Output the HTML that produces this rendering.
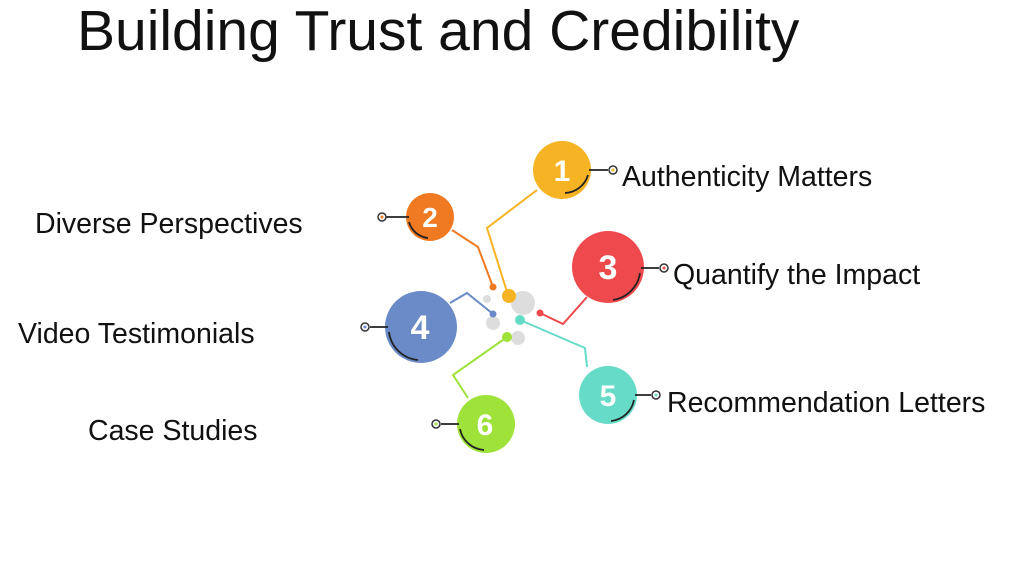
<!DOCTYPE html>
<html><head><meta charset="utf-8"><style>
body{margin:0;width:1024px;height:576px;background:#fff;overflow:hidden;position:relative;font-family:"Liberation Sans",sans-serif}
.t{position:absolute;white-space:nowrap;color:#111;font-size:28.5px;line-height:1}
</style></head><body>
<div class="t" style="left:77px;top:3px;font-size:57px;">Building Trust and Credibility</div>
<div class="t" style="left:622px;top:163px;">Authenticity Matters</div>
<div class="t" style="left:35px;top:210px;">Diverse Perspectives</div>
<div class="t" style="left:673px;top:261px;">Quantify the Impact</div>
<div class="t" style="left:18px;top:320px;">Video Testimonials</div>
<div class="t" style="left:667px;top:389px;">Recommendation Letters</div>
<div class="t" style="left:88px;top:417px;">Case Studies</div>
<svg width="1024" height="576" style="position:absolute;left:0;top:0" font-family="Liberation Sans, sans-serif" font-weight="bold">
<g fill="#ddd"><circle cx="523" cy="303" r="12"/><circle cx="493" cy="323" r="7"/><circle cx="518" cy="338" r="7"/><circle cx="487" cy="299" r="4"/></g>
<g fill="none" stroke-width="2">
<polyline points="452,230 478,247 493,287" stroke="#f07a22"/>
<polyline points="537,190 487,228 508,295" stroke="#f6b323"/>
<polyline points="450,303 467,293 493,314" stroke="#6a8bc8"/>
<polyline points="587,297 563,324 540,313" stroke="#ee4a4e"/>
<polyline points="587,367 585,348 520,320" stroke="#66dcc8"/>
<polyline points="468,398 453,375 507,337" stroke="#9fe23a"/>
</g>
<circle cx="493" cy="287" r="3.5" fill="#f07a22"/>
<circle cx="509" cy="296" r="7" fill="#f6b323"/>
<circle cx="493" cy="314" r="3.5" fill="#6a8bc8"/>
<circle cx="540" cy="313" r="3.5" fill="#ee4a4e"/>
<circle cx="520" cy="320" r="5" fill="#66dcc8"/>
<circle cx="507" cy="337" r="5" fill="#9fe23a"/>
<g>
<circle cx="562" cy="170" r="29" fill="#f6b323"/>
<circle cx="430" cy="217" r="24" fill="#f07a22"/>
<circle cx="608" cy="267" r="36" fill="#ee4a4e"/>
<circle cx="421" cy="327" r="36" fill="#6a8bc8"/>
<circle cx="608" cy="395" r="29" fill="#66dcc8"/>
<circle cx="486" cy="424" r="29" fill="#9fe23a"/>
</g>
<g fill="#fff" text-anchor="middle">
<text x="562" y="181" font-size="30">1</text>
<text x="430" y="227" font-size="28">2</text>
<text x="608" y="279" font-size="34">3</text>
<text x="420" y="339" font-size="34">4</text>
<text x="608" y="406" font-size="30">5</text>
<text x="485" y="435" font-size="30">6</text>
</g>
<g fill="none" stroke="#222" stroke-width="1.8">
<path d="M589,170 L608,170 M588,175 A25,25 0 0 1 565,193"/>
<path d="M409,217 L386,217 M409,222 A22,22 0 0 0 428,238"/>
<path d="M641,268 L659,268 M640,273 A32,32 0 0 1 613,300"/>
<path d="M388,327 L370,327 M389,332 A32,32 0 0 0 418,360"/>
<path d="M635,395 L651,395 M634,400 A26,26 0 0 1 611,421"/>
<path d="M459,424 L441,424 M460,429 A26,26 0 0 0 484,450"/>
</g>
<g fill="#fff" stroke="#333" stroke-width="1.5">
<circle cx="613" cy="170" r="4"/><circle cx="382" cy="217" r="4"/><circle cx="664" cy="268" r="4"/>
<circle cx="365" cy="327" r="4"/><circle cx="656" cy="395" r="4"/><circle cx="436" cy="424" r="4"/>
</g>
<g>
<circle cx="613" cy="170" r="1.5" fill="#f6b323"/><circle cx="382" cy="217" r="1.5" fill="#f07a22"/><circle cx="664" cy="268" r="1.5" fill="#ee4a4e"/>
<circle cx="365" cy="327" r="1.5" fill="#6a8bc8"/><circle cx="656" cy="395" r="1.5" fill="#66dcc8"/><circle cx="436" cy="424" r="1.5" fill="#9fe23a"/>
</g>
</svg>
</body></html>
